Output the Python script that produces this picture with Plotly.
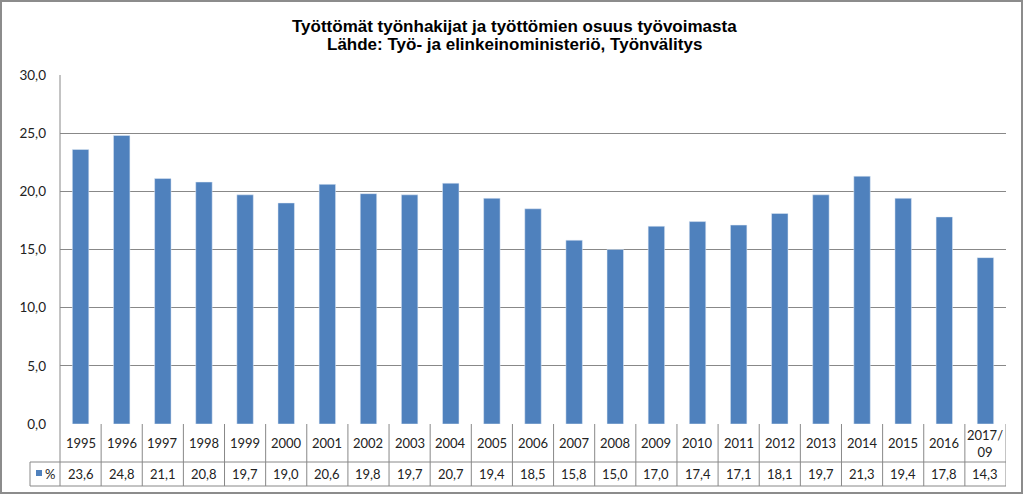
import plotly.graph_objects as go

# data
years = ["1995", "1996", "1997", "1998", "1999", "2000", "2001", "2002", "2003", "2004",
         "2005", "2006", "2007", "2008", "2009", "2010", "2011", "2012", "2013", "2014",
         "2015", "2016", "2017/<br>09"]
share = [23.6, 24.8, 21.1, 20.8, 19.7, 19.0, 20.6, 19.8, 19.7, 20.7,
         19.4, 18.5, 15.8, 15.0, 17.0, 17.4, 17.1, 18.1, 19.7, 21.3,
         19.4, 17.8, 14.3]
series_name = "%"
title_lines = ["Työttömät työnhakijat ja työttömien osuus työvoimasta",
               "Lähde: Työ- ja elinkeinoministeriö, Työnvälitys"]

W, H = 1024, 495
L, R, T, B = 60, 18, 75, 71
pw, ph = W - L - R, H - T - B
BLUE = "#4f81bd"
GRID = "#888888"
TXT = "#222222"
FONT = "Lato"

def py(pix):
    # pixel row -> paper y
    return (H - B - pix) / ph

def px(pix):
    return (pix - L) / pw

n = len(years)
xs = list(range(n))

fig = go.Figure()
fig.add_trace(go.Bar(x=xs, y=share, width=0.4, marker_color=BLUE,
                     name=series_name, showlegend=False))

shapes = []
ann = []
row1_bot = 462
tab_bot = 486
line = dict(color=GRID, width=1)
# table horizontal lines
shapes.append(dict(type="line", xref="paper", yref="paper", x0=px(30), x1=1,
                   y0=py(row1_bot), y1=py(row1_bot), line=line))
shapes.append(dict(type="line", xref="paper", yref="paper", x0=px(30), x1=1,
                   y0=py(tab_bot), y1=py(tab_bot), line=line))
# axis line continued through the table
shapes.append(dict(type="line", xref="paper", yref="paper", x0=0, x1=0,
                   y0=1, y1=py(tab_bot), line=line))
# legend cell left border
shapes.append(dict(type="line", xref="paper", yref="paper", x0=px(30), x1=px(30),
                   y0=py(row1_bot), y1=py(tab_bot), line=line))
# vertical lines between categories
for i in range(n):
    shapes.append(dict(type="line", xref="x", yref="paper", x0=i + 0.5, x1=i + 0.5,
                       y0=0, y1=py(tab_bot), line=line))
# legend key
shapes.append(dict(type="rect", xref="paper", yref="paper", x0=px(36), x1=px(42),
                   y0=py(476), y1=py(470), fillcolor=BLUE, line=dict(width=0)))
# outer chart border
shapes.append(dict(type="rect", xref="paper", yref="paper", x0=px(1), x1=px(W - 2),
                   y0=py(H - 2), y1=py(1), line=dict(color="#8c8c8c", width=2)))

cell_font = dict(family=FONT, size=13, color=TXT)
for i, (yr, v) in enumerate(zip(years, share)):
    ann.append(dict(x=i, y=py((H - B + row1_bot) / 2), xref="x", yref="paper", text=yr,
                    xanchor="center", yanchor="middle", showarrow=False, font=cell_font))
    ann.append(dict(x=i, y=py((row1_bot + tab_bot) / 2), xref="x", yref="paper",
                    text=f"{v:.1f}".replace(".", ","), xanchor="center", yanchor="middle",
                    showarrow=False, font=cell_font))
ann.append(dict(x=px(43), y=py((row1_bot + tab_bot) / 2), xref="paper", yref="paper",
                text=series_name, xanchor="left", yanchor="middle", showarrow=False,
                font=cell_font))

# two title lines, set tighter than plotly's own line spacing
title_font = dict(family="Liberation Sans", size=17, color="black", weight="bold")
for k, t in enumerate(title_lines):
    ann.append(dict(x=px(514), y=py(26 + 19 * k), xref="paper", yref="paper", text=t,
                    xanchor="center", yanchor="middle", showarrow=False, font=title_font))

fig.update_layout(
    width=W, height=H,
    margin=dict(l=L, r=R, t=T, b=B),
    paper_bgcolor="white", plot_bgcolor="white",
    separators=", ",
    xaxis=dict(range=[-0.5, n - 0.5], showticklabels=False, showgrid=False,
               zeroline=False, showline=False, ticks=""),
    yaxis=dict(range=[0, 30], dtick=5, tickformat=".1f", showgrid=True, gridcolor=GRID,
               zeroline=False, showline=False, ticks="", ticklen=0, ticklabelstandoff=13,
               tickfont=dict(family=FONT, size=13.5, color=TXT)),
    shapes=shapes, annotations=ann,
)

fig.write_html("out.html", config={"displayModeBar": False},
               post_script="document.body.style.margin='0';")
